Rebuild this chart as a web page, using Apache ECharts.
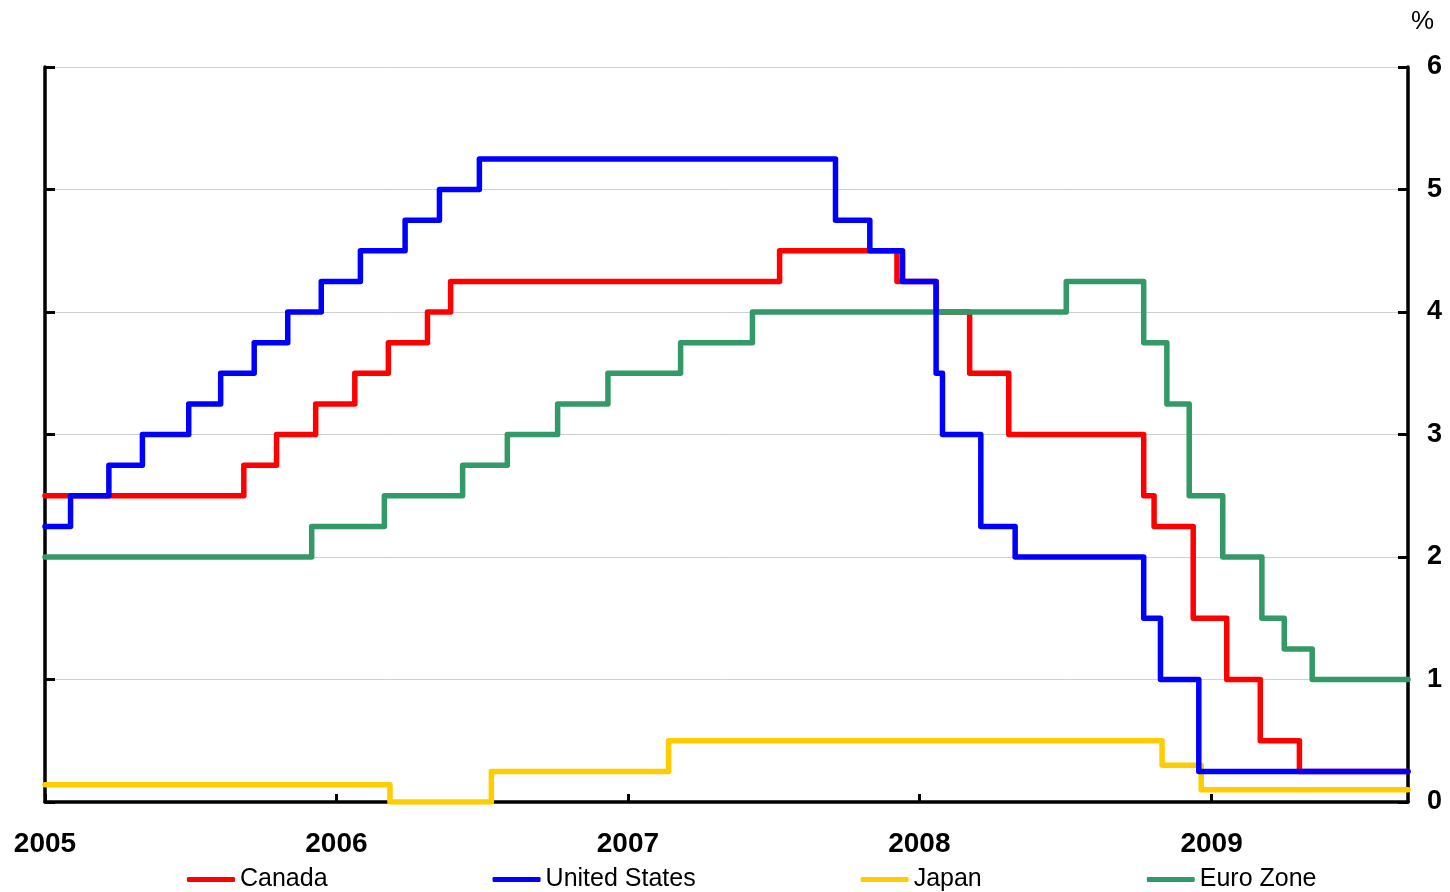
<!DOCTYPE html>
<html>
<head>
<meta charset="utf-8">
<script src="https://cdn.jsdelivr.net/npm/echarts@6/dist/echarts.min.js"></script>
<style>
html,body{margin:0;padding:0;background:#fff;}
#chart{width:1450px;height:892px;}
</style>
</head>
<body>
<div id="chart"></div>
<script>
// Policy rate change dates and new levels (%)
const canadaDates = ['2005-01-01','2005-09-07','2005-10-18','2005-12-06','2006-01-24','2006-03-07','2006-04-25','2006-05-24','2007-07-10','2007-12-04','2008-01-22','2008-03-04','2008-04-22','2008-10-08','2008-10-21','2008-12-09','2009-01-20','2009-03-03','2009-04-21','2009-09-04'];
const canadaValues = [2.5,2.75,3.0,3.25,3.5,3.75,4.0,4.25,4.5,4.25,4.0,3.5,3.0,2.5,2.25,1.5,1.0,0.5,0.25,0.25];

const usDates = ['2005-01-01','2005-02-02','2005-03-22','2005-05-03','2005-06-30','2005-08-09','2005-09-20','2005-11-01','2005-12-13','2006-01-31','2006-03-28','2006-05-10','2006-06-29','2007-09-18','2007-10-31','2007-12-11','2008-01-22','2008-01-30','2008-03-18','2008-04-30','2008-10-08','2008-10-29','2008-12-16','2009-09-04'];
const usValues = [2.25,2.5,2.75,3.0,3.25,3.5,3.75,4.0,4.25,4.5,4.75,5.0,5.25,4.75,4.5,4.25,3.5,3.0,2.25,2.0,1.5,1.0,0.25,0.25];

const japanDates = ['2005-01-01','2006-03-09','2006-07-14','2007-02-21','2008-10-31','2008-12-19','2009-09-04'];
const japanValues = [0.14,0.0,0.25,0.5,0.3,0.1,0.1];

const euroDates = ['2005-01-01','2005-12-01','2006-03-02','2006-06-08','2006-08-03','2006-10-05','2006-12-07','2007-03-08','2007-06-06','2008-07-03','2008-10-08','2008-11-06','2008-12-04','2009-01-15','2009-03-05','2009-04-02','2009-05-07','2009-09-04'];
const euroValues = [2.0,2.25,2.5,2.75,3.0,3.25,3.5,3.75,4.0,4.25,3.75,3.25,2.5,2.0,1.5,1.25,1.0,1.0];

const yearTicks = ['2005-01-01','2006-01-01','2007-01-01','2008-01-01','2009-01-01'];

function ts(s){ const p = s.split('-').map(Number); return Date.UTC(p[0], p[1]-1, p[2]); }
function pairs(d, v){ return d.map((x,i)=>[ts(x), v[i]]); }

const chart = echarts.init(document.getElementById('chart'), null, {renderer:'canvas'});
const FONT = '"Liberation Sans", Arial, sans-serif';
const tickVals = yearTicks.map(ts);

function mkSeries(name, color, d, v){
  return {name, type:'line', step:'end', data:pairs(d,v), showSymbol:false, symbol:'none',
    lineStyle:{color, width:5.5, cap:'round', join:'round'}, itemStyle:{color}, animation:false};
}

const option = {
  animation:false,
  backgroundColor:'#fff',
  grid:{left:45, right:42, top:67, bottom:90, containLabel:false},
  xAxis:{
    type:'value', min:ts('2005-01-01'), max:ts('2009-09-04'), scale:true,
    axisLine:{show:true, lineStyle:{color:'#000', width:3.5}},
    axisTick:{show:true, inside:true, length:8, lineStyle:{color:'#000', width:3}, customValues:tickVals},
    axisLabel:{show:true, margin:28, fontSize:28, fontWeight:'bold', color:'#000', fontFamily:FONT,
      customValues:tickVals, hideOverlap:false,
      formatter:function(v){ return String(new Date(v).getUTCFullYear()); }},
    splitLine:{show:false}
  },
  yAxis:[
    {type:'value', position:'left', min:0, max:6, interval:1,
      axisLine:{show:true, lineStyle:{color:'#000', width:3.5}},
      axisTick:{show:true, inside:true, length:10, lineStyle:{color:'#000', width:3}},
      axisLabel:{show:false},
      splitLine:{show:true, lineStyle:{color:'#d0d0d0', width:1}}
    },
    {type:'value', position:'right', min:0, max:6, interval:1,
      axisLine:{show:true, lineStyle:{color:'#000', width:3.5}},
      axisTick:{show:true, inside:true, length:10, lineStyle:{color:'#000', width:3}},
      axisLabel:{show:true, margin:19, fontSize:27, fontWeight:'bold', color:'#000', fontFamily:FONT, padding:[5,0,0,0]},
      splitLine:{show:false}
    }
  ],
  legend:{
    data:['Canada','United States','Japan','Euro Zone'],
    left:182, top:862, orient:'horizontal',
    icon:'roundRect', itemWidth:48, itemHeight:5, itemGap:165,
    textStyle:{fontSize:25, color:'#000', fontFamily:FONT}
  },
  graphic:[{type:'text', right:16, top:9, style:{text:'%', fontSize:26, fill:'#000', fontFamily:FONT}}],
  series:[
    mkSeries('Japan','#FFCC00',japanDates,japanValues),
    mkSeries('Canada','#FF0000',canadaDates,canadaValues),
    mkSeries('Euro Zone','#339966',euroDates,euroValues),
    mkSeries('United States','#0000FF',usDates,usValues)
  ]
};
chart.setOption(option);
</script>
</body>
</html>
